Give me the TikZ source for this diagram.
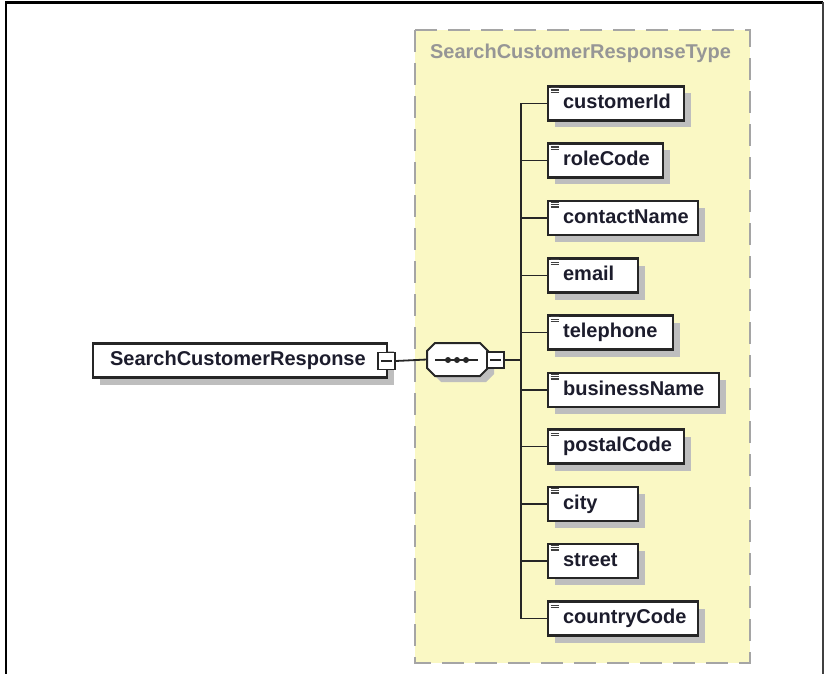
\documentclass[tikz,border=0pt]{standalone}
\usepackage{fontspec}
\setmainfont{Liberation Sans}
\usetikzlibrary{shadows}
\definecolor{bgyellow}{RGB}{250,248,196}
\definecolor{dashgray}{RGB}{165,165,165}
\definecolor{shadowgray}{RGB}{190,190,190}
\definecolor{txt}{RGB}{28,28,44}
\definecolor{titlegray}{RGB}{150,150,150}
\newcommand\elt[2]{\makebox[#1pt][l]{\hspace*{15pt}#2}}
\newcommand\elicon[1]{\foreach \d in {2.3,4.7,7.1} \draw[line width=1.2pt, black!75] ([shift={(3.5pt,-\d pt)}]#1.north west) -- ++(8pt,0);}
\begin{document}
\begin{tikzpicture}[x=1pt,y=-1pt,
  elem/.style={draw=black!85, line width=2.2pt, fill=white, anchor=west,
    minimum height=34pt, inner xsep=0pt, inner ysep=0pt,
    text height=14pt, text depth=4pt,
    font=\fontsize{20}{24}\selectfont\bfseries, text=txt,
    drop shadow={shadow xshift=7pt, shadow yshift=-7pt, fill=shadowgray, opacity=1}},
  minusbox/.style={draw=black!85, line width=1.6pt, fill=white, inner sep=0pt,
    minimum width=17pt, minimum height=17pt,
    path picture={\draw[line width=1.3pt, black!85] ([xshift=3pt]path picture bounding box.west) -- ([xshift=-3pt]path picture bounding box.east);}},
  conn/.style={line width=1.8pt, black!85}
]
\path[use as bounding box] (0,0) rectangle (825,674);
% outer frame
\draw[line width=2.2pt, black] (6,674) -- (6,2.5) -- (823,2.5);
\draw[line width=1.2pt, black!75] (823,2.5) -- (823,674);
% complex type box
\draw[fill=bgyellow, draw=dashgray, line width=2.2pt, dash pattern=on 22pt off 11pt] (415,30) rectangle (750,663);
\node[font=\fontsize{20}{24}\selectfont\bfseries, text=titlegray] (title) at (580.5,53) {SearchCustomerResponseType};
% root element
\node[elem] (root) at (92,360.5) {\makebox[294pt][l]{\hspace*{17pt}SearchCustomerResponse}};
\node[minusbox] (rootm) at (386.5,361) {};
% sequence compositor
\fill[shadowgray] (433,349) -- (486,349) -- (494,357) -- (494,374) -- (486,382) -- (441,382) -- (433,374) -- (433,357) -- cycle;
\draw[line width=2pt, black!85, fill=white] (435,343) -- (480,343) -- (488,351) -- (488,368) -- (480,376) -- (435,376) -- (427,368) -- (427,351) -- cycle;
\node[inner sep=0pt, minimum width=61pt, minimum height=33pt] (seq) at (457.5,359.5) {};
\draw[line width=1.6pt, black!85] (435,360) -- (478,360);
\foreach \xx in {448,457,466} \fill[black!85] (\xx,360) circle (3pt);
\node[minusbox, minimum height=16pt] (seqm) at (495.5,360) {};
\coordinate (bus) at (521,360);
\draw[conn] (rootm.east) -- (seq.west);
\draw[conn] (seqm.east) -- (bus);
% child elements
\foreach \n/\w/\y in {customerId/136/103.5, roleCode/115/160.5, contactName/150/218,
  email/90/275.5, telephone/125/332.5, businessName/171/390, postalCode/136/446.5,
  city/90/504, street/90/561, countryCode/150/618.5} {
  \node[elem] (\n) at (547,\y) {\elt{\w}{\n}};
  \elicon{\n}
  \draw[conn] (\n.west) -- (\n.west -| bus);
}
\draw[conn] (customerId.west -| bus) -- (countryCode.west -| bus);
\end{tikzpicture}
\end{document}
